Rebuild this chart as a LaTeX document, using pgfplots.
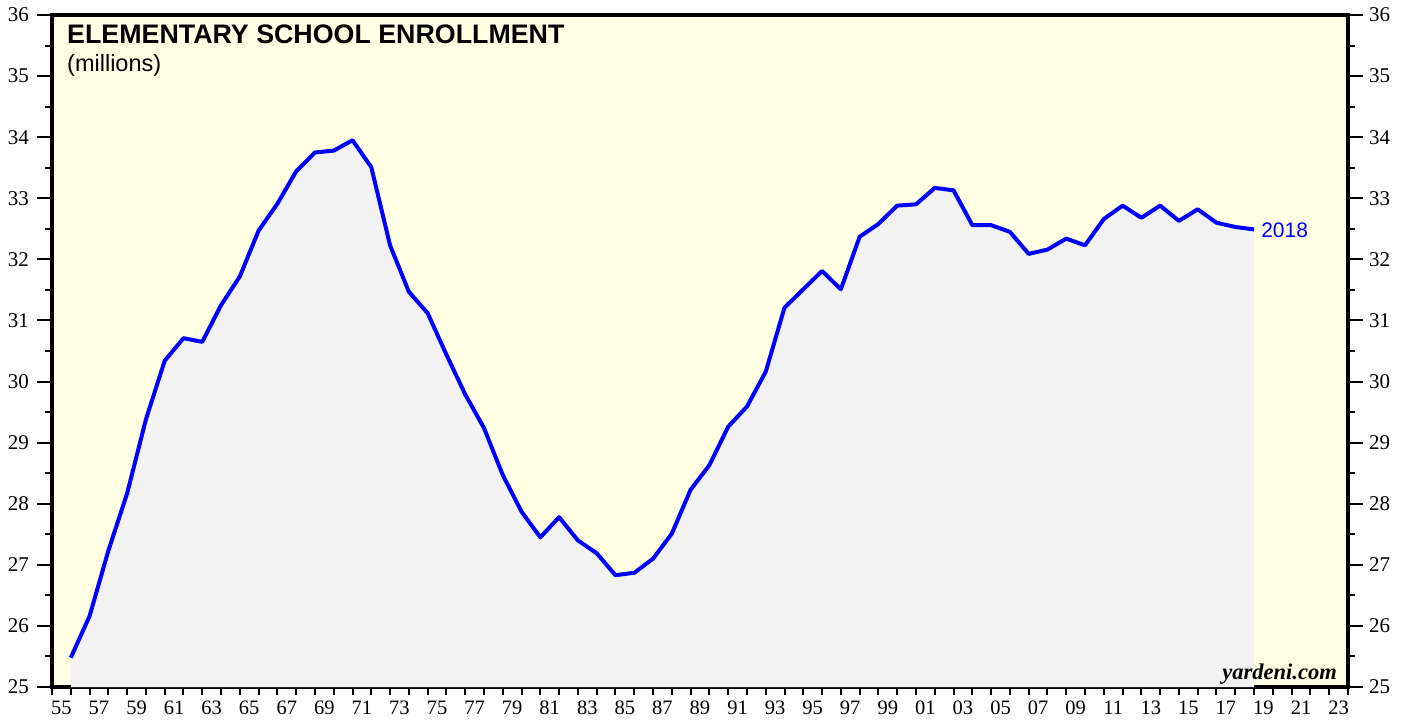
\documentclass[border=0pt]{standalone}
\usepackage{pgfplots}
\pgfplotsset{compat=1.18}
\usepackage{pgfplotstable}
\usepackage{fontspec}
\setmainfont{Liberation Serif}
\newfontfamily\arial{Liberation Sans}
\definecolor{bgyellow}{HTML}{FFFFE4}
\definecolor{fillgray}{HTML}{F2F2F2}
\definecolor{lineblue}{HTML}{0000FF}
\pgfplotstableread{
x y
1956 25.48
1957 26.16
1958 27.23
1959 28.17
1960 29.38
1961 30.34
1962 30.71
1963 30.65
1964 31.25
1965 31.72
1966 32.47
1967 32.91
1968 33.44
1969 33.75
1970 33.78
1971 33.95
1972 33.51
1973 32.23
1974 31.47
1975 31.12
1976 30.44
1977 29.79
1978 29.24
1979 28.47
1980 27.87
1981 27.45
1982 27.78
1983 27.40
1984 27.19
1985 26.83
1986 26.87
1987 27.10
1988 27.51
1989 28.23
1990 28.63
1991 29.26
1992 29.59
1993 30.16
1994 31.21
1995 31.51
1996 31.81
1997 31.51
1998 32.37
1999 32.58
2000 32.88
2001 32.90
2002 33.17
2003 33.13
2004 32.56
2005 32.56
2006 32.45
2007 32.09
2008 32.16
2009 32.34
2010 32.23
2011 32.66
2012 32.88
2013 32.68
2014 32.88
2015 32.63
2016 32.82
2017 32.60
2018 32.53
2019 32.49
}\enrollment
\pgfplotsset{
  commonaxis/.style={
    scale only axis,
    width=1296pt, height=672pt,
    xmin=1955, xmax=2024,
    ymin=25, ymax=36,
    ytick={25,26,...,36},
    tick align=outside,
    major tick length=15pt,
    minor tick length=7.5pt,
    /pgf/number format/assume math mode=true,
    yticklabel style={font=\fontsize{21}{21}\selectfont, inner sep=0pt},
  }
}
\begin{document}
\begin{tikzpicture}
\path[use as bounding box] (-52pt,-34pt) rectangle (1356pt,687pt);
\begin{axis}[
  commonaxis,
  at={(0pt,0pt)}, anchor=south west,
  axis background/.style={fill=bgyellow},
  axis line style={line width=3.4pt, black},
  every tick/.style={line width=2pt, black},
  ytick pos=both,
  yticklabel pos=left,
  minor y tick num=1,
  yticklabel style={xshift=-8pt},
  xtick pos=bottom,
  xtick={1955.5,1957.5,...,2023.5},
  xticklabels={55,57,59,61,63,65,67,69,71,73,75,77,79,81,83,85,87,89,91,93,95,97,99,01,03,05,07,09,11,13,15,17,19,21,23},
  major x tick style={draw=none},
  minor xtick={1955,1956,...,2024},
  xticklabel style={font=\fontsize{20.5}{20.5}\selectfont, inner sep=0pt, yshift=1pt},
  clip=true,
]
\addplot[fill=fillgray, draw=none] table[x=x,y=y]{\enrollment} \closedcycle;
\addplot[lineblue, line width=4pt, line join=round] table[x=x,y=y]{\enrollment};
\node[anchor=base west, inner sep=0pt, font=\arial\bfseries\fontsize{26.8}{26.8}\selectfont]
  at ([xshift=15pt,yshift=-28.5pt]rel axis cs:0,1) {ELEMENTARY SCHOOL ENROLLMENT};
\node[anchor=base west, inner sep=0pt, font=\arial\fontsize{23.5}{23.5}\selectfont]
  at ([xshift=15pt,yshift=-57pt]rel axis cs:0,1) {(millions)};
\node[anchor=base east, inner sep=0pt, font=\bfseries\itshape\fontsize{22.5}{22.5}\selectfont]
  at ([xshift=-11pt,yshift=8pt]rel axis cs:1,0) {yardeni.com};
\node[anchor=west, inner sep=0pt, text=lineblue, font=\arial\fontsize{21}{21}\selectfont]
  at ([xshift=7pt,yshift=-1pt]axis cs:2019,32.49) {2018};
\end{axis}
\begin{axis}[
  commonaxis,
  at={(0pt,0pt)}, anchor=south west,
  axis line style={draw=none},
  every tick/.style={draw=none},
  ytick pos=right,
  yticklabel pos=right,
  yticklabel style={xshift=6pt},
  xtick=\empty,
]
\end{axis}
\end{tikzpicture}
\end{document}
